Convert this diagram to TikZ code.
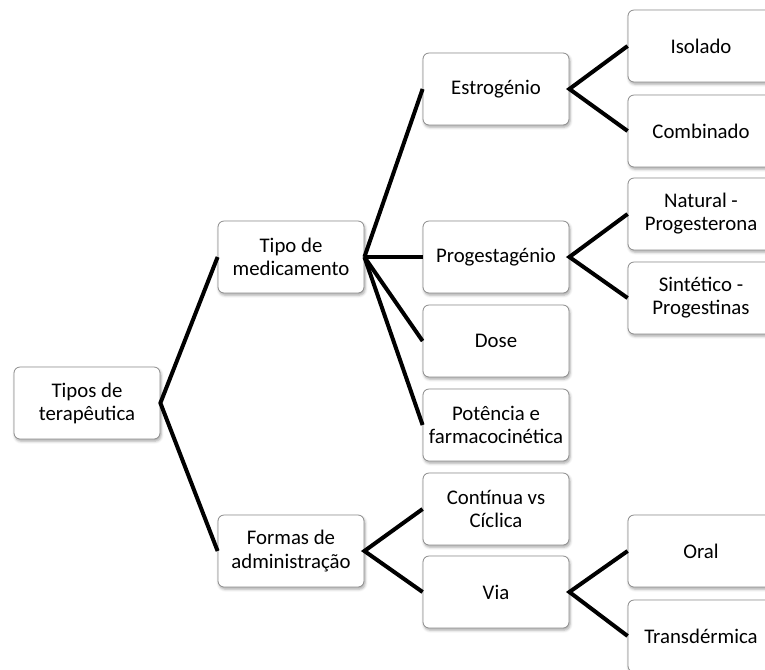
\documentclass[tikz,border=0pt]{standalone}
\usepackage{fontspec}
\setmainfont{Carlito}
\usetikzlibrary{shadows.blur}
\definecolor{borda}{RGB}{140,140,140}
\tikzset{
  caixa/.style={draw=borda, line width=0.6pt, fill=white, rounded corners=4.5pt,
    minimum width=109.5pt, minimum height=54pt, inner sep=1pt, align=center,
    font=\fontsize{15.6}{17.3}\selectfont,
    blur shadow={shadow xshift=0.8pt, shadow yshift=-1.6pt, shadow blur radius=2pt, shadow opacity=35}},
  ramo/.style={draw=black, line width=3pt}
}
\begin{document}
\begin{tikzpicture}[x=0.75pt,y=0.75pt,yscale=-1,xscale=1]
\clip (0,0) rectangle (765,669);

%Level 1
\node [caixa] (terap) at (87,403) {Tipos de\\terapêutica};

%Level 2
\node [caixa] (medic) at (291,257) {Tipo de\\medicamento};
\node [caixa] (admin) at (291,551) {Formas de\\administração};

%Level 3
\node [caixa] (estrog) at (496,89) {Estrogénio};
\node [caixa] (progest) at (496,257) {Progestagénio};
\node [caixa] (dose) at (496,341) {Dose};
\node [caixa] (potencia) at (496,425) {Potência e\\farmacocinética};
\node [caixa] (continua) at (496,509) {Contínua vs\\Cíclica};
\node [caixa] (via) at (496,592) {Via};

%Level 4
\node [caixa] (isolado) at (701,46) {Isolado};
\node [caixa] (combinado) at (701,131) {Combinado};
\node [caixa] (natural) at (701,214) {Natural -\\Progesterona};
\node [caixa] (sintetico) at (701,298) {Sintético -\\Progestinas};
\node [caixa] (oral) at (701,551) {Oral};
\node [caixa] (transd) at (701,636) {Transdérmica};

%Connectors
\draw [ramo] (medic.west) -- (terap.east) -- (admin.west);
\foreach \filho in {estrog,progest,dose,potencia}
  \draw [ramo] (medic.east) -- (\filho.west);
\draw [ramo] (continua.west) -- (admin.east) -- (via.west);
\draw [ramo] (isolado.west) -- (estrog.east) -- (combinado.west);
\draw [ramo] (natural.west) -- (progest.east) -- (sintetico.west);
\draw [ramo] (oral.west) -- (via.east) -- (transd.west);

\end{tikzpicture}
\end{document}
